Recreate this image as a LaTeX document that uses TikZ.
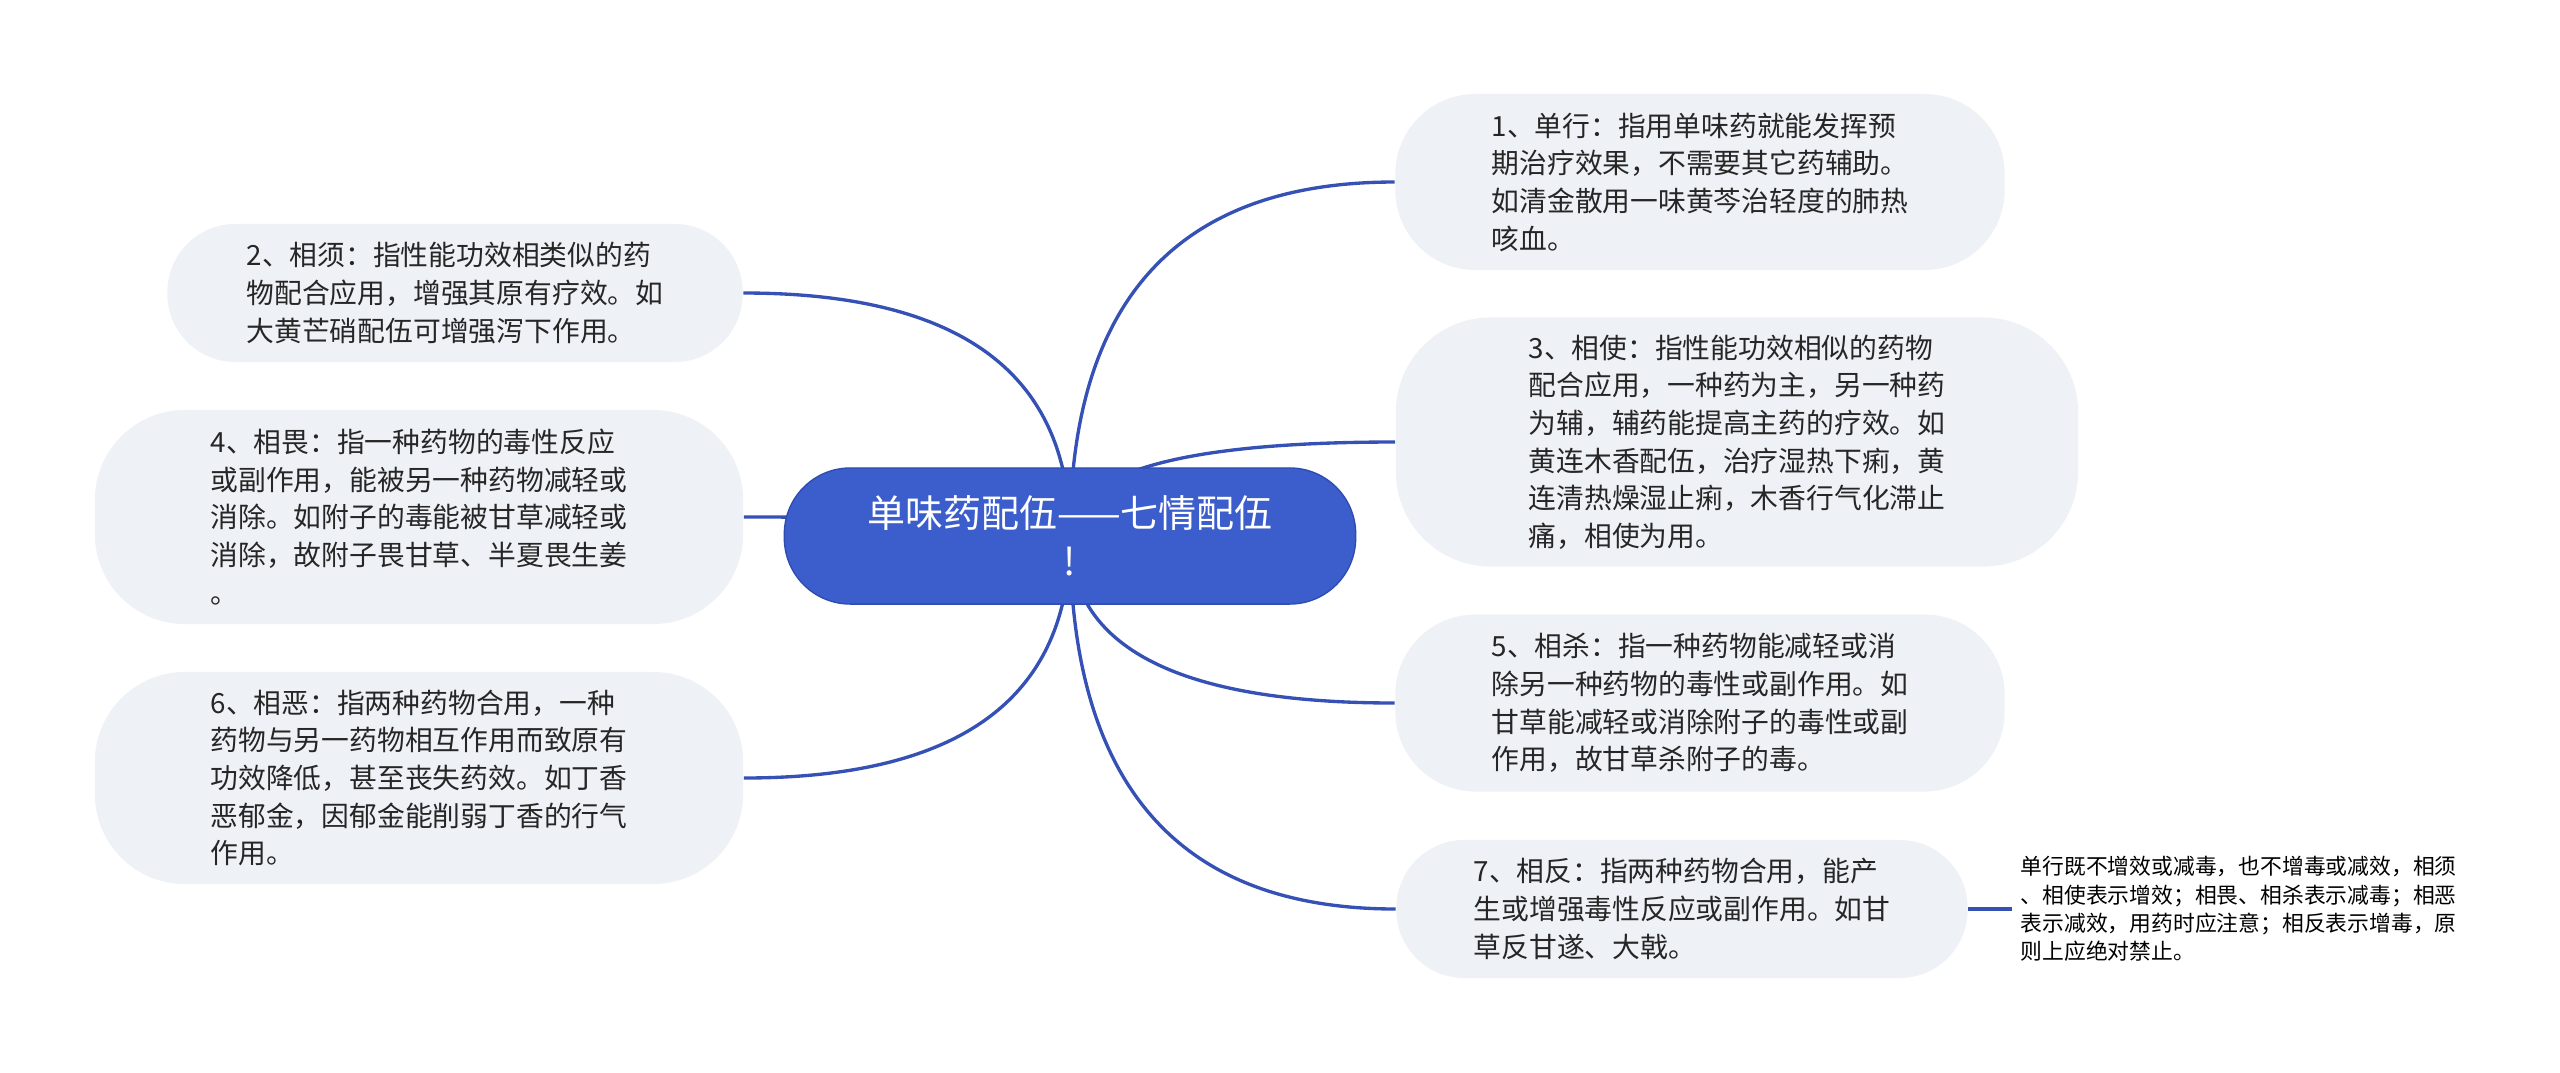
\documentclass[tikz,border=0pt]{standalone}
\usepackage{fontspec}
\setmainfont{Noto Sans CJK SC}
\usetikzlibrary{calc}
\usetikzlibrary{backgrounds}

\definecolor{linkblue}{HTML}{3551B6}
\definecolor{rootblue}{HTML}{3C5ECC}
\definecolor{rootedge}{HTML}{2F4DB0}
\definecolor{leafgray}{HTML}{EEF1F5}

\begin{document}
\begin{tikzpicture}[x=0.01cm,y=-0.01cm,
		leaf/.style={fill=leafgray, inner sep=0pt, align=left, text=black!85, font=\fontsize{7.9}{10.7}\selectfont},
		link/.style={draw=linkblue, line width=0.95pt}]
		\useasboundingbox (0,0) rectangle (2560,1072);
		% centre
		\node[fill=rootblue, draw=rootedge, text=white, align=center, font=\fontsize{10.8}{13.7}\selectfont, minimum width=5.71cm, minimum height=1.36cm, rounded corners=0.66cm] (root) at (1070,536) {单味药配伍——七情配伍\\!};
		% right side
		\node[leaf, minimum width=6.09cm, minimum height=1.76cm, rounded corners=0.8cm] (n1) at (1700,182) {1、单行：指用单味药就能发挥预\\期治疗效果，不需要其它药辅助。\\如清金散用一味黄芩治轻度的肺热\\咳血。};
		\node[leaf, minimum width=6.82cm, minimum height=2.49cm, rounded corners=0.95cm] (n3) at (1737,442) {3、相使：指性能功效相似的药物\\配合应用，一种药为主，另一种药\\为辅，辅药能提高主药的疗效。如\\黄连木香配伍，治疗湿热下痢，黄\\连清热燥湿止痢，木香行气化滞止\\痛，相使为用。};
		\node[leaf, minimum width=6.09cm, minimum height=1.77cm, rounded corners=0.8cm] (n5) at (1700,703) {5、相杀：指一种药物能减轻或消\\除另一种药物的毒性或副作用。如\\甘草能减轻或消除附子的毒性或副\\作用，故甘草杀附子的毒。};
		\node[leaf, minimum width=5.71cm, minimum height=1.38cm, rounded corners=0.68cm] (n7) at (1682,909) {7、相反：指两种药物合用，能产\\生或增强毒性反应或副作用。如甘\\草反甘遂、大戟。};
		\node[anchor=west, inner xsep=0.08cm, inner ysep=0pt, align=left, font=\fontsize{6.2}{8.05}\selectfont] (note) at (2012,909) {单行既不增效或减毒，也不增毒或减效，相须\\、相使表示增效；相畏、相杀表示减毒；相恶\\表示减效，用药时应注意；相反表示增毒，原\\则上应绝对禁止。};
		% left side
		\node[leaf, minimum width=5.75cm, minimum height=1.38cm, rounded corners=0.68cm] (n2) at (455,293) {2、相须：指性能功效相类似的药\\物配合应用，增强其原有疗效。如\\大黄芒硝配伍可增强泻下作用。};
		\node[leaf, minimum width=6.48cm, minimum height=2.14cm, rounded corners=0.9cm] (n4) at (419,517) {4、相畏：指一种药物的毒性反应\\或副作用，能被另一种药物减轻或\\消除。如附子的毒能被甘草减轻或\\消除，故附子畏甘草、半夏畏生姜\\。};
		\node[leaf, minimum width=6.48cm, minimum height=2.12cm, rounded corners=0.9cm] (n6) at (419,778) {6、相恶：指两种药物合用，一种\\药物与另一药物相互作用而致原有\\功效降低，甚至丧失药效。如丁香\\恶郁金，因郁金能削弱丁香的行气\\作用。};
		% branches
		\begin{scope}[on background layer]
			\foreach \n in {n1,n3,n5,n7}
				\draw[link] (root.center) .. controls ($(root.center)!0.667!(root.center |- \n.west)$) and ($(\n.west)!0.667!(root.center |- \n.west)$) .. (\n.west);
			\foreach \n in {n2,n4,n6}
				\draw[link] (root.center) .. controls ($(root.center)!0.667!(root.center |- \n.east)$) and ($(\n.east)!0.667!(root.center |- \n.east)$) .. (\n.east);
			\draw[link] (n7.east) -- (note.west);
		\end{scope}
	\end{tikzpicture}
\end{document}
